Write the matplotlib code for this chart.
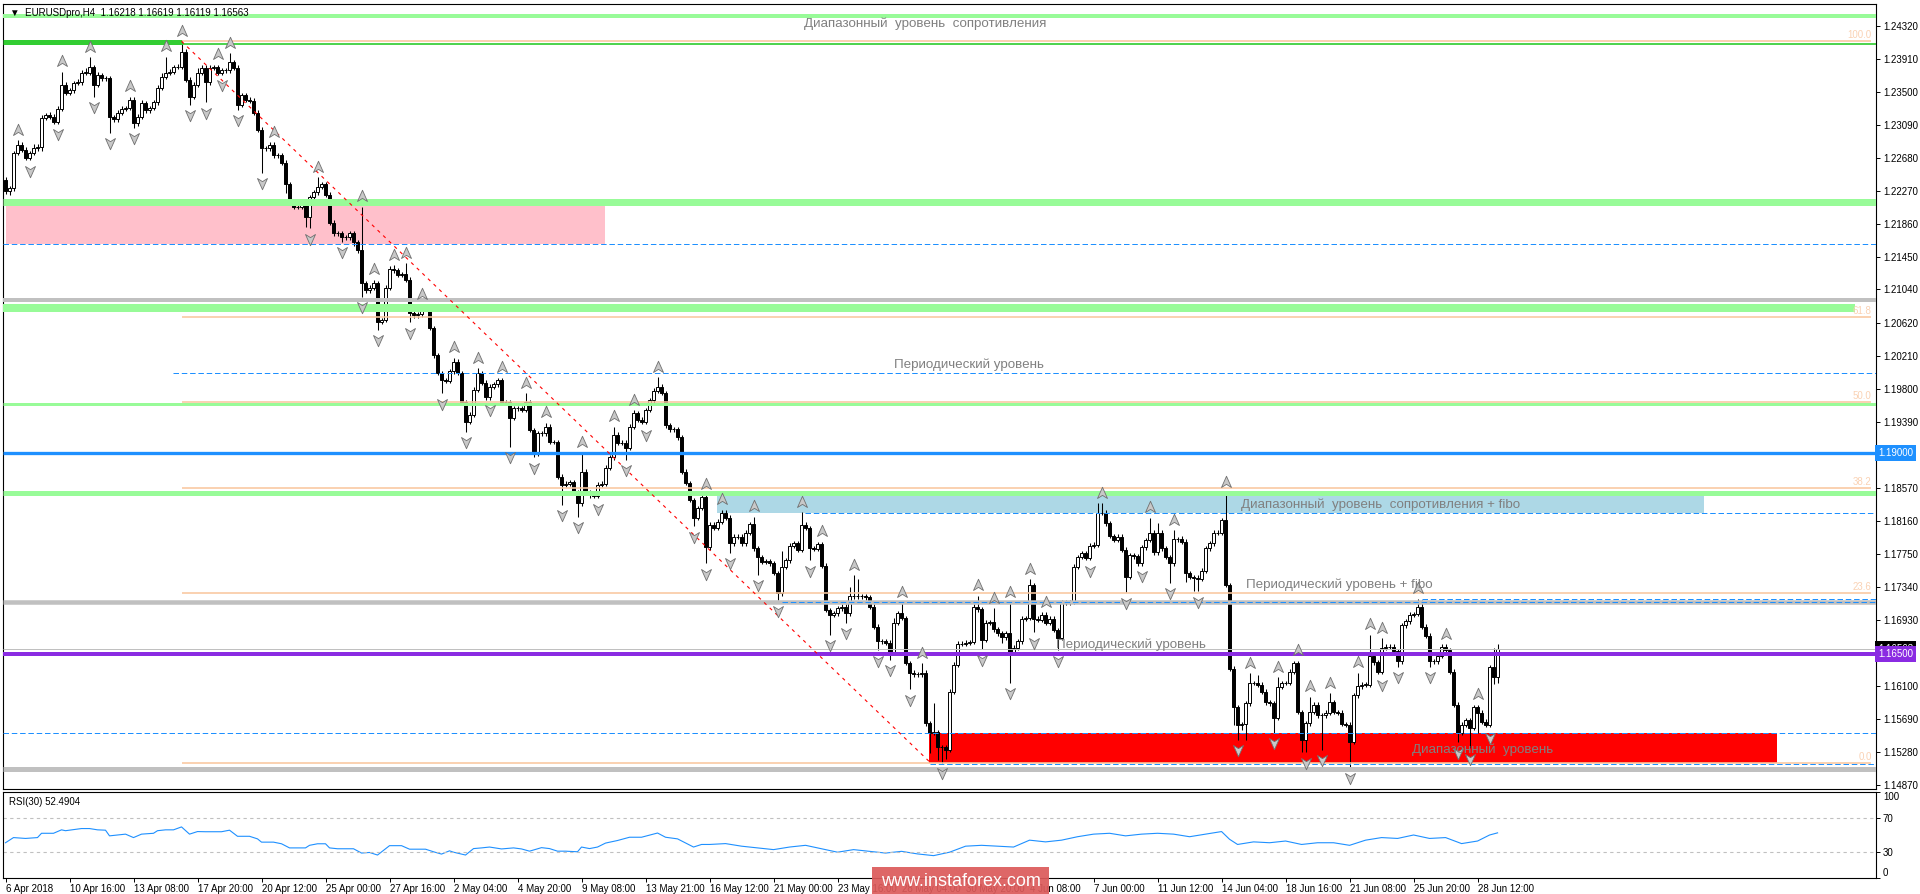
import numpy as np
import matplotlib
matplotlib.use("Agg")
import matplotlib.pyplot as plt
from matplotlib.path import Path
from matplotlib.patches import Rectangle
from matplotlib.transforms import offset_copy, blended_transform_factory

plt.rcParams['font.family'] = ['Liberation Sans', 'DejaVu Sans']

W, H = 1920, 894
PX = 0.72  # points per pixel at dpi 100

# ---- data (EURUSD H4, prices in 1e-4 units) ----
first_open_pips = 12240
closes_pips = [
    12226, 12230, 12274, 12284, 12278, 12268, 12274, 12280, 12281, 12318,
    12321, 12319, 12313, 12329, 12359, 12349, 12352, 12361, 12362, 12374,
    12374, 12381, 12359, 12371, 12367, 12367, 12319, 12316, 12324, 12329,
    12330, 12340, 12311, 12319, 12336, 12327, 12330, 12337, 12355, 12369,
    12374, 12375, 12381, 12381, 12400, 12365, 12344, 12359, 12374, 12380,
    12362, 12380, 12381, 12374, 12377, 12377, 12387, 12380, 12334, 12346,
    12340, 12339, 12324, 12303, 12280, 12280, 12284, 12271, 12271, 12262,
    12235, 12213, 12207, 12207, 12212, 12194, 12219, 12225, 12232, 12235,
    12222, 12187, 12174, 12174, 12169, 12169, 12174, 12163, 12153, 12112,
    12103, 12106, 12112, 12064, 12066, 12106, 12130, 12128, 12122, 12123,
    12116, 12075, 12072, 12073, 12081, 12081, 12056, 12022, 12000, 11991,
    11990, 12002, 12014, 12000, 11964, 11939, 11948, 11979, 12000, 11988,
    11970, 11983, 11986, 11991, 11964, 11964, 11944, 11956, 11956, 11954,
    11964, 11929, 11900, 11925, 11925, 11933, 11914, 11914, 11871, 11861,
    11862, 11864, 11851, 11838, 11877, 11851, 11848, 11847, 11861, 11862,
    11882, 11895, 11923, 11913, 11913, 11907, 11933, 11950, 11942, 11939,
    11954, 11966, 11978, 11983, 11975, 11935, 11930, 11930, 11920, 11877,
    11863, 11842, 11820, 11832, 11846, 11783, 11811, 11807, 11815, 11826,
    11820, 11788, 11796, 11796, 11788, 11801, 11812, 11782, 11771, 11765,
    11766, 11763, 11751, 11726, 11759, 11767, 11785, 11788, 11780, 11811,
    11807, 11782, 11781, 11787, 11760, 11705, 11699, 11701, 11707, 11709,
    11701, 11722, 11722, 11722, 11722, 11721, 11709, 11684, 11666, 11666,
    11664, 11653, 11689, 11701, 11695, 11639, 11627, 11625, 11625, 11627,
    11564, 11552, 11553, 11534, 11534, 11531, 11603, 11637, 11663, 11663,
    11664, 11665, 11709, 11706, 11668, 11689, 11690, 11681, 11676, 11671,
    11676, 11653, 11658, 11666, 11694, 11695, 11736, 11694, 11693, 11699,
    11689, 11694, 11680, 11670, 11714, 11714, 11715, 11759, 11771, 11776,
    11770, 11785, 11786, 11826, 11826, 11813, 11797, 11792, 11796, 11780,
    11746, 11773, 11772, 11763, 11783, 11792, 11801, 11777, 11801, 11782,
    11771, 11763, 11793, 11793, 11790, 11751, 11746, 11745, 11744, 11754,
    11782, 11788, 11801, 11801, 11817, 11736, 11632, 11584, 11562, 11563,
    11589, 11614, 11614, 11612, 11603, 11590, 11589, 11571, 11609, 11614,
    11614, 11628, 11639, 11578, 11543, 11564, 11578, 11587, 11574, 11574,
    11577, 11590, 11578, 11577, 11563, 11562, 11541, 11599, 11610, 11612,
    11612, 11648, 11640, 11628, 11658, 11659, 11659, 11654, 11641, 11686,
    11691, 11699, 11700, 11709, 11684, 11673, 11641, 11641, 11648, 11659,
    11655, 11628, 11587, 11552, 11562, 11568, 11558, 11584, 11577, 11566,
    11562, 11634, 11622, 11656,
]
# upper / lower wick length beyond the body, in 1e-4 units
wick_up = [
    4, 3, 3, 6, 3, 3, 3, 5, 4, 3,   3, 4, 3, 3, 16, 3, 3, 3, 4, 3,
    6, 12, 3, 4, 3, 3, 3, 2, 3, 3,  3, 4, 3, 3, 4, 3, 3, 3, 3, 4,
    20, 3, 3, 4, 13, 3, 3, 3, 6, 3, 3, 4, 3, 3, 3, 3, 11, 3, 3, 3,
    3, 3, 3, 3, 3, 3, 3, 3, 3, 3,   3, 3, 3, 3, 3, 3, 3, 3, 12, 3,
    3, 3, 3, 3, 3, 3, 3, 3, 3, 54,  3, 3, 4, 3, 3, 3, 3, 4, 3, 3,
    14, 3, 3, 3, 4, 3, 3, 3, 3, 3,  3, 3, 5, 3, 3, 3, 3, 3, 6, 3,
    3, 3, 3, 3, 3, 3, 3, 3, 3, 3,   11, 3, 3, 3, 3, 5, 3, 3, 3, 3,
    3, 3, 3, 3, 24, 3, 3, 3, 3, 3,  3, 3, 10, 3, 3, 3, 3, 4, 3, 3,
    3, 3, 3, 12, 3, 3, 3, 3, 3, 3,  3, 3, 3, 3, 3, 3, 3, 3, 3, 4,
    3, 3, 3, 3, 3, 3, 3, 9, 3, 3,   3, 3, 3, 3, 19, 3, 3, 3, 3, 16,
    3, 3, 3, 3, 3, 3, 3, 3, 3, 3,   3, 11, 26, 22, 3, 3, 3, 3, 3, 3,
    3, 3, 6, 3, 14, 3, 3, 3, 3, 12, 3, 3, 36, 3, 3, 3, 3, 3, 3, 3,
    3, 3, 3, 14, 3, 3, 3, 17, 3, 3, 3, 39, 3, 3, 3, 3, 7, 3, 3, 3,
    3, 3, 3, 3, 3, 3, 3, 3, 3, 3,   3, 3, 3, 12, 12, 3, 3, 3, 3, 3,
    3, 3, 3, 3, 3, 3, 19, 3, 12, 3, 3, 3, 11, 3, 4, 3, 3, 3, 3, 3,
    3, 3, 3, 3, 3, 34, 3, 3, 3, 3,  3, 12, 3, 10, 3, 3, 3, 3, 12, 3,
    3, 3, 3, 3, 3, 3, 19, 3, 3, 3,  3, 11, 3, 3, 3, 3, 3, 3, 17, 3,
    3, 26, 3, 3, 12, 3, 3, 3, 3, 3, 3, 3, 3, 10, 9, 3, 3, 3, 3, 3,
    3, 3, 3, 3, 3, 3, 3, 3, 3, 3,   3, 3, 24, 6,
]
wick_dn = [
    3, 4, 3, 3, 3, 3, 3, 3, 3, 5,   3, 3, 3, 3, 3, 3, 3, 3, 3, 3,
    3, 3, 15, 3, 3, 3, 20, 3, 3, 3, 3, 3, 6, 3, 3, 3, 3, 3, 3, 3,
    3, 3, 3, 3, 3, 3, 10, 3, 3, 3,  25, 3, 3, 3, 3, 3, 3, 3, 6, 3,
    3, 3, 3, 3, 31, 3, 3, 3, 3, 3,  11, 3, 3, 3, 3, 12, 14, 3, 3, 3,
    3, 3, 3, 3, 6, 3, 3, 5, 3, 17,  3, 3, 3, 10, 3, 3, 3, 3, 3, 3,
    3, 12, 3, 3, 3, 3, 3, 3, 3, 16, 3, 3, 3, 3, 3, 12, 3, 3, 3, 3,
    3, 3, 3, 3, 3, 3, 36, 3, 3, 3,  3, 3, 5, 3, 3, 3, 3, 3, 3, 25,
    3, 3, 3, 17, 3, 3, 3, 3, 3, 3,  3, 3, 3, 3, 3, 15, 3, 3, 3, 3,
    3, 3, 3, 3, 3, 3, 3, 3, 3, 3,   3, 3, 11, 3, 3, 20, 3, 3, 3, 3,
    3, 12, 3, 3, 3, 3, 3, 3, 22, 3, 3, 3, 3, 9, 3, 3, 3, 3, 3, 3,
    3, 15, 3, 3, 3, 3, 25, 3, 3, 3, 12, 3, 3, 3, 3, 3, 3, 3, 11, 3,
    3, 10, 3, 3, 3, 3, 21, 3, 3, 3, 3, 25, 3, 16, 19, 12, 3, 3, 3, 3,
    3, 3, 3, 3, 12, 3, 3, 3, 3, 7,  3, 39, 3, 3, 3, 3, 3, 17, 3, 3,
    3, 3, 3, 15, 3, 3, 3, 3, 3, 3,  3, 3, 3, 3, 3, 3, 3, 3, 3, 3,
    19, 3, 3, 3, 3, 3, 3, 3, 3, 3,  3, 24, 3, 3, 3, 11, 3, 17, 16, 3,
    3, 3, 3, 3, 3, 3, 3, 22, 19, 7, 20, 3, 3, 3, 3, 3, 3, 19, 3, 3,
    3, 3, 3, 3, 15, 15, 3, 3, 3, 43, 3, 3, 3, 3, 3, 3, 32, 3, 3, 3,
    3, 3, 3, 3, 3, 3, 3, 3, 7, 3,   3, 3, 3, 3, 3, 3, 7, 3, 3, 3,
    3, 3, 3, 12, 3, 3, 25, 3, 25, 3, 3, 3, 9, 8,
]

rsi_bars = [0, 2, 5, 8, 9, 12, 14, 15, 19, 21, 23, 25, 26, 30, 32, 34, 37, 38, 40, 42,
            44, 46, 48, 50, 54, 56, 58, 61, 63, 64, 67, 69, 71, 75, 76, 78, 80, 81, 83, 87,
            89, 91, 93, 96, 99, 101, 105, 107, 109, 111, 112, 115, 117, 119, 121, 124, 127,
            129, 131, 134, 136, 138, 140, 143, 144, 146, 148, 150, 153, 156, 159, 163, 165,
            168, 172, 174, 176, 180, 184, 188, 192, 196, 200, 204, 208, 212, 216, 220, 224,
            228, 232, 236, 240, 244, 248, 252, 256, 260, 264, 268, 272, 276, 280, 284, 288,
            292, 296, 300, 304, 306, 308, 312, 316, 320, 324, 328, 332, 336, 340, 344, 348,
            352, 356, 360, 364, 368, 371, 373]
rsi_vals = [41, 47, 46, 47, 52, 52, 56, 55, 57.5, 57.5, 56, 55.6, 49, 51, 47, 51, 52, 55, 56, 56,
            59.4, 51, 54, 53.8, 53.8, 55.6, 48.5, 48.5, 45.5, 41.7, 41.7, 39.8, 35, 35, 38, 39.8,
            39.8, 35, 34, 34, 29, 29.7, 26.7, 37.6, 37.6, 33.5, 33.5, 30.5, 27.8, 31.6, 30, 26.7,
            34.2, 35, 36, 33.8, 35, 33.8, 31.2, 35.3, 34.2, 31.2, 31.2, 30.5, 36, 34.2, 36, 40.6,
            43.6, 47.4, 47.4, 52.3, 47.4, 45.5, 36, 39, 39, 40, 37, 35, 33, 36, 38, 34, 30, 33,
            31, 29, 31, 28, 26, 30, 37, 38, 37, 36, 44, 42, 44, 48, 51, 52, 49, 51, 52, 51, 48,
            51, 54, 45, 39, 42, 41, 43, 39, 41, 41, 38, 44, 47, 46, 50, 46, 47, 40, 43, 50, 52.5]

time_labels = ["6 Apr 2018", "10 Apr 16:00", "13 Apr 08:00", "17 Apr 20:00", "20 Apr 12:00",
               "25 Apr 00:00", "27 Apr 16:00", "2 May 04:00", "4 May 20:00", "9 May 08:00",
               "13 May 21:00", "16 May 12:00", "21 May 00:00", "23 May 16:00", "28 May 04:00",
               "30 May 20:00", "4 Jun 08:00", "7 Jun 00:00", "11 Jun 12:00", "14 Jun 04:00",
               "18 Jun 16:00", "21 Jun 08:00", "25 Jun 20:00", "28 Jun 12:00"]
label_step = 16

price_ticks = [1.24320, 1.23910, 1.23500, 1.23090, 1.22680, 1.22270, 1.21860, 1.21450,
               1.21040, 1.20620, 1.20210, 1.19800, 1.19390, 1.18570, 1.18160, 1.17750,
               1.17340, 1.16930, 1.16100, 1.15690, 1.15280, 1.14870]

fibo_high, fibo_low = 1.2413, 1.1514
fibo_levels = [100.0, 61.8, 50.0, 38.2, 23.6, 0.0]
bid = 1.16563

# ---- derived candle arrays ----
closes = np.array(closes_pips) / 1e4
opens = np.r_[first_open_pips / 1e4, closes[:-1]]
tops = np.maximum(opens, closes)
bots = np.minimum(opens, closes)
highs = tops + np.array(wick_up) / 1e4
lows = bots - np.array(wick_dn) / 1e4
n = len(closes)
xs = np.arange(n)

fig = plt.figure(figsize=(W / 100, H / 100), dpi=100)
fig.patch.set_facecolor('white')


def px_box(l, t, r, b):
    return [l / W, 1 - b / H, (r - l) / W, (b - t) / H]


ax = fig.add_axes(px_box(3, 4, 1876, 789))
ax_rsi = fig.add_axes(px_box(3, 792, 1876, 878))
X0, X1 = -0.625, 467.6
ax.set_xlim(X0, X1)
ax_rsi.set_xlim(X0, X1)
ax.set_ylim(1.14821, 1.24594)


def level(price, width_px, color, xa=X0, xb=X1, dashed=False, z=6):
    kw = dict(color=color, lw=width_px * PX, solid_capstyle='butt', zorder=z)
    if dashed:
        kw['dashes'] = (5.5, 2.8)
    ax.plot([xa, xb], [price, price], **kw)


def box(xa, xb, pa, pb, color):
    ax.add_patch(Rectangle((xa, pa), xb - xa, pb - pa, facecolor=color,
                           edgecolor='none', zorder=2))


BLUE = '#1E90FF'
PALE = '#98FB98'
LIME = '#32CD32'
GRAY = '#C0C0C0'
PEACH = '#F9C8A0'

# filled zones (behind candles)
box(0.125, 149.9, 1.21606, 1.22092, '#FFC0CB')
box(177.8, 424.6, 1.18262, 1.18533, '#ADD8E6')
box(230.9, 442.9, 1.15141, 1.15514, '#FF0000')

# horizontal levels
level(1.24445, 4, PALE)
level(1.2412, 5, LIME, X0, 44)
level(1.2410, 1.7, LIME, 44, X1)
level(1.22135, 7, PALE)
level(1.21606, 1, BLUE, dashed=True)
level(1.20913, 4, GRAY)
level(1.20809, 8, PALE, X0, 462.4)
level(1.2000, 1, BLUE, 41.9, X1, dashed=True)
level(1.19608, 3, PALE)
level(1.19000, 3.3, BLUE)
level(1.18506, 5, PALE)
level(1.1826, 1, BLUE, 199.9, X1, dashed=True)
level(1.17155, 4.5, GRAY)
level(1.1715, 1, BLUE, 194, X1, dashed=True)
level(1.1719, 1, BLUE, 354, X1, dashed=True)
level(bid, 1, GRAY)
level(1.16500, 4, '#8A2BE2')
level(1.15514, 1, BLUE, dashed=True)
level(1.1513, 1, BLUE, 231, X1, dashed=True)
level(1.15074, 5, GRAY)

# fibonacci retracement
for lv in fibo_levels:
    p = fibo_low + (fibo_high - fibo_low) * lv / 100
    level(p, 1.6, PEACH, 44, 466.3, z=7)
    ax.text(466.5, p + 0.00012, f'{lv:.1f}', ha='right', va='bottom', fontsize=7,
            color='#FAD2B4', zorder=8)
ax.plot([44, 231.4], [fibo_high, fibo_low], color='#FF0000', lw=0.8,
        dashes=(3, 4), zorder=7)

# candles
ax.vlines(xs, lows, highs, colors='black', lw=0.75, zorder=4)
ax.bar(xs, np.maximum(tops - bots, 0.00002), bottom=bots, width=0.55,
       color=np.where(closes >= opens, 'white', 'black'), edgecolor='black',
       lw=0.7, zorder=5)

# fractals
up_f = [i for i in range(2, n - 2) if highs[i] >= highs[i - 1] and highs[i] >= highs[i - 2]
        and highs[i] > highs[i + 1] and highs[i] > highs[i + 2]]
dn_f = [i for i in range(2, n - 2) if lows[i] <= lows[i - 1] and lows[i] <= lows[i - 2]
        and lows[i] < lows[i + 1] and lows[i] < lows[i + 2]]
arrow_up = Path([(0, 1), (0.8, -0.8), (0, -0.3), (-0.8, -0.8), (0, 1)],
                [Path.MOVETO, Path.LINETO, Path.LINETO, Path.LINETO, Path.CLOSEPOLY])
arrow_dn = Path([(0, -1), (0.8, 0.8), (0, 0.3), (-0.8, 0.8), (0, -1)],
                [Path.MOVETO, Path.LINETO, Path.LINETO, Path.LINETO, Path.CLOSEPOLY])
tr_up = offset_copy(ax.transData, fig=fig, y=7.5, units='points')
tr_dn = offset_copy(ax.transData, fig=fig, y=-7.5, units='points')
ax.plot(up_f, highs[up_f], ls='none', marker=arrow_up, ms=9, mfc='#C8C8C8',
        mec='#707070', mew=0.6, transform=tr_up, zorder=9)
ax.plot(dn_f, lows[dn_f], ls='none', marker=arrow_dn, ms=9, mfc='#C8C8C8',
        mec='#707070', mew=0.6, transform=tr_dn, zorder=9)

# annotations
txt = dict(color='#808080', fontsize=9.6, zorder=10)
ax.text(229.9, 1.24345, 'Диапазонный  уровень  сопротивления', ha='center', va='center', **txt)
ax.text(240.9, 1.2010, 'Периодический уровень', ha='center', va='center', **txt)
ax.text(308.9, 1.18357, 'Диапазонный  уровень  сопротивления + fibo', ha='left', va='center', **txt)
ax.text(310.1, 1.1736, 'Периодический уровень + fibo', ha='left', va='center', **txt)
ax.text(262.6, 1.16614, 'Периодический уровень', ha='left', va='center', **txt)
ax.text(351.6, 1.15307, 'Диапазонный  уровень', ha='left', va='center', **txt)

ax.text(0.0037, 0.989, '▼  EURUSDpro,H4  1.16218 1.16619 1.16119 1.16563',
        transform=ax.transAxes, ha='left', va='center', fontsize=7, color='black', zorder=10)

# right price axis
ax.yaxis.tick_right()
ax.set_yticks(price_ticks)
ax.set_yticklabels([f'{p:.5f}' for p in price_ticks], fontsize=7)
ax.tick_params(axis='y', direction='out', length=3, width=0.7, pad=2)
ax.set_xticks([])
trans = blended_transform_factory(ax.transAxes, ax.transData)
for price, fc in [(bid, 'black'), (1.19000, BLUE), (1.16500, '#8A2BE2')]:
    ax.text(1.0012, price, f'{price:.5f}', transform=trans, ha='left', va='center',
            fontsize=7, color='white', clip_on=False, zorder=20,
            bbox=dict(boxstyle='square,pad=0.3', fc=fc, ec='none'))

# RSI panel
ax_rsi.set_ylim(0, 100)
ax_rsi.plot(rsi_bars, rsi_vals, color=BLUE, lw=0.8)
for lv in (70, 30):
    ax_rsi.axhline(lv, color=GRAY, lw=0.8, dashes=(3, 3))
ax_rsi.text(0.0032, 0.94, 'RSI(30) 52.4904', transform=ax_rsi.transAxes,
            ha='left', va='top', fontsize=7)
ax_rsi.yaxis.tick_right()
ax_rsi.set_yticks([0, 30, 70, 100])
ax_rsi.set_yticklabels(['0', '30', '70', '100'], fontsize=7)
ax_rsi.tick_params(axis='y', direction='out', length=3, width=0.7, pad=2)
lbls = ax_rsi.get_yticklabels()
lbls[0].set_va('bottom')
lbls[3].set_va('top')
ax_rsi.set_xticks(np.arange(len(time_labels)) * label_step)
ax_rsi.set_xticklabels(time_labels, fontsize=7, ha='left')
ax_rsi.tick_params(axis='x', direction='out', length=3, width=0.7, pad=1)

for a in (ax, ax_rsi):
    for s in a.spines.values():
        s.set_linewidth(0.8)

# watermark
fig.add_artist(Rectangle((872 / W, 0), 177 / W, 27 / H, transform=fig.transFigure,
                         facecolor='#DC5A5A', edgecolor='none', alpha=0.92, zorder=30))
fig.text(960.5 / W, 13 / H, 'www.instaforex.com', ha='center', va='center',
         fontsize=13, color='white', zorder=31)

fig.savefig('out.png', dpi=100)
